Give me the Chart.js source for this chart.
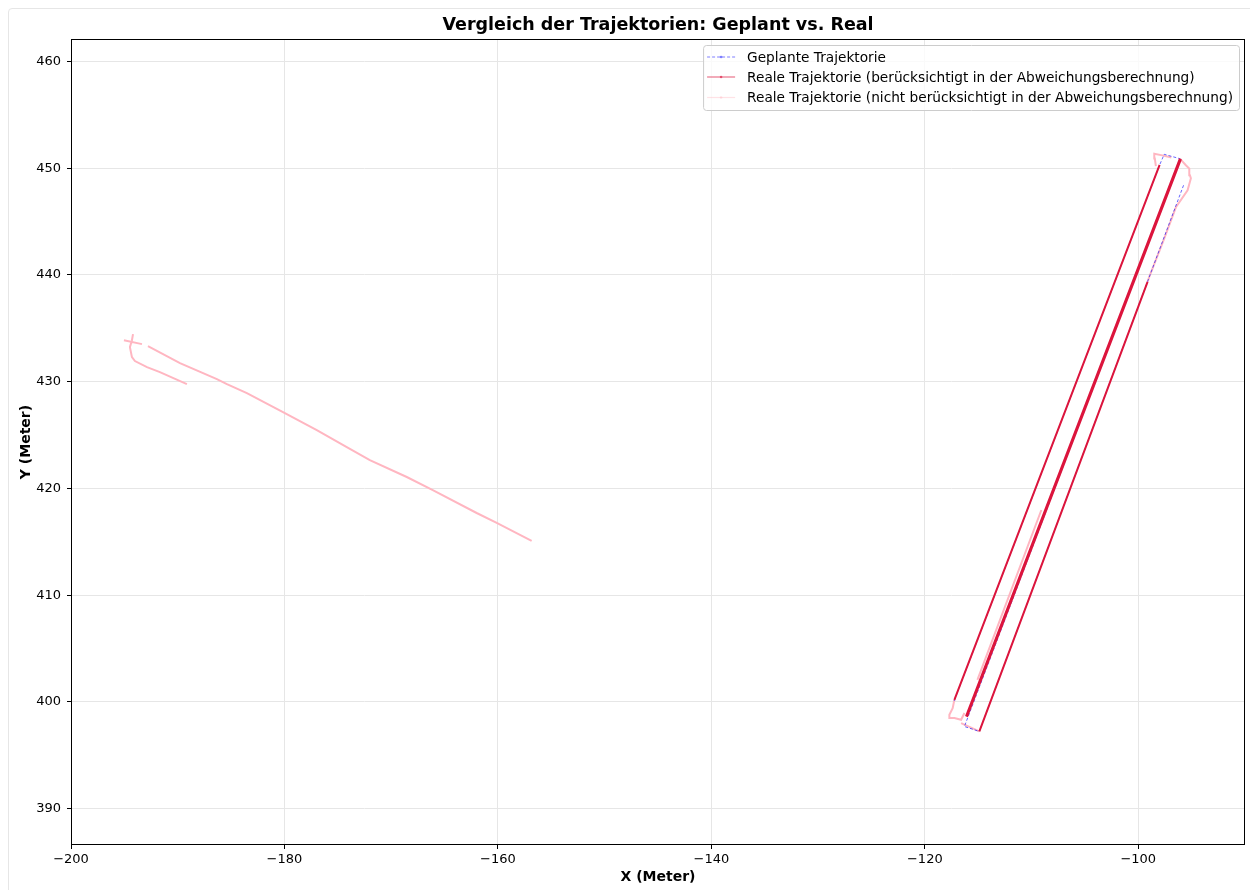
<!DOCTYPE html>
<html>
<head>
<meta charset="utf-8">
<script src="https://cdn.jsdelivr.net/npm/chart.js@4.4.0/dist/chart.umd.min.js"></script>
<style>
  body { margin: 0; background: #fff; }
  #wrap { position: relative; width: 1250px; height: 890px; overflow: hidden; }
  #frame { position: absolute; left: 8px; top: 8px; width: 1270px; height: 900px;
           border: 1px solid #e6e6e6; border-radius: 4px; box-sizing: border-box; }
  #chart { position: absolute; left: 0; top: 0; }
</style>
</head>
<body>
<div id="wrap">
  <div id="frame"></div>
  <canvas id="chart" width="1250" height="890"></canvas>
</div>
<script>
// Achsen
const xTicks = [-200, -180, -160, -140, -120, -100];
const yTicks = [390, 400, 410, 420, 430, 440, 450, 460];

// Geplante Trajektorie
const plannedX = [-117.25, -98.00, -97.57, -96.10, -116.29, -114.89, -95.72];
const plannedY = [400.10, 450.30, 451.30, 450.89, 397.70, 397.24, 448.50];

// Reale Trajektorie (berücksichtigt) - null = Lücke
const realInX = [-117.23, -98.00, null, -96.10, -116.14, null, -96.00, -116.05, null, -114.89, -99.13];
const realInY = [400.20, 450.30, null, 450.89, 398.64, null, 450.85, 398.60, null, 397.24, 439.35];

// Reale Trajektorie (nicht berücksichtigt)
const realOutX = [
  -189.14, -191.67, -192.88, -194.01, -194.29, -194.48, -194.29, -194.19, null,
  -195.04, -193.35, null,
  -192.79, -189.79, -186.33, -185.39, -183.52, -179.96, -176.97, -174.16, -172.00, -168.54, -166.10, -161.99, -160.11, -156.84, null,
  -98.35, -98.45, -98.50, -97.75, -96.90, null,
  -99.13, -98.97, -97.57, -96.46, -95.38, -95.07, -95.16, -95.22, -95.54, -96.10, null,
  -109.08, -115.07, null,
  -117.23, -117.39, -117.70, -117.70, -117.23, -116.60, -116.45, -116.29, null,
  -116.60, -114.89
];
const realOutY = [
  429.77, 430.90, 431.36, 431.93, 432.30, 433.24, 433.89, 434.45, null,
  433.89, 433.52, null,
  433.33, 431.74, 430.24, 429.77, 428.93, 427.06, 425.47, 423.88, 422.66, 421.07, 419.85, 417.70, 416.77, 415.08, null,
  450.20, 450.90, 451.36, 451.20, 451.00, null,
  439.35, 439.81, 443.41, 446.37, 447.93, 449.05, 449.33, 449.96, 450.27, 450.89, null,
  417.98, 402.07, null,
  400.20, 399.42, 398.80, 398.49, 398.49, 398.33, 398.64, 398.96, null,
  398.02, 397.24
];

const titleText = 'Vergleich der Trajektorien: Geplant vs. Real';
const legendLabels = [
  'Geplante Trajektorie',
  'Reale Trajektorie (berücksichtigt in der Abweichungsberechnung)',
  'Reale Trajektorie (nicht berücksichtigt in der Abweichungsberechnung)'
];

const FONT = '"DejaVu Sans", sans-serif';

const toPoints = (xs, ys) => xs.map((x, i) => ({ x: x, y: ys[i] }));
const fmt = v => (v < 0 ? '\u2212' + Math.abs(v) : String(v));

// Titel, Rahmen und Legende (im Stil von matplotlib)
const decor = {
  id: 'decor',
  afterDraw(chart) {
    const { ctx, chartArea: a } = chart;
    ctx.save();
    ctx.strokeStyle = '#000';
    ctx.lineWidth = 1;
    ctx.strokeRect(a.left + 0.5, a.top + 0.5, a.right - a.left - 1, a.bottom - a.top - 1);

    ctx.fillStyle = '#000';
    ctx.font = 'bold 17.5px ' + FONT;
    ctx.textAlign = 'center';
    ctx.textBaseline = 'middle';
    ctx.fillText(titleText, (a.left + a.right) / 2, 25);

    // Legende
    ctx.font = '13.7px ' + FONT;
    const maxW = Math.max(...legendLabels.map(t => ctx.measureText(t).width));
    const right = a.right - 6, top = a.top + 6;
    const w = maxW + 50, h = 65, left = right - w;
    ctx.fillStyle = 'rgba(255,255,255,0.8)';
    ctx.strokeStyle = '#cccccc';
    ctx.beginPath();
    ctx.roundRect(left + 0.5, top + 0.5, w, h, 3);
    ctx.fill();
    ctx.stroke();

    const rows = [top + 12, top + 32, top + 52.5];
    const styles = [
      { color: 'rgba(0,0,255,0.5)', dash: [3, 2] },
      { color: 'rgba(220,20,60,0.6)', dash: [] },
      { color: 'rgba(255,182,193,0.4)', dash: [] }
    ];
    rows.forEach((y, i) => {
      const s = styles[i];
      ctx.strokeStyle = s.color;
      ctx.lineWidth = 1.2;
      ctx.setLineDash(s.dash);
      ctx.beginPath();
      ctx.moveTo(left + 4, y);
      ctx.lineTo(left + 32, y);
      ctx.stroke();
      ctx.setLineDash([]);
      ctx.fillStyle = s.color;
      ctx.beginPath();
      ctx.arc(left + 18, y, 1.3, 0, Math.PI * 2);
      ctx.fill();
      ctx.fillStyle = '#000';
      ctx.textAlign = 'left';
      ctx.textBaseline = 'middle';
      ctx.fillText(legendLabels[i], left + 44, y + 1);
    });
    ctx.restore();
  }
};

new Chart(document.getElementById('chart').getContext('2d'), {
  type: 'scatter',
  data: {
    datasets: [
      {
        label: legendLabels[0],
        data: toPoints(plannedX, plannedY),
        showLine: true,
        borderColor: 'rgba(0,0,255,0.6)',
        borderWidth: 1,
        borderDash: [3, 2],
        pointRadius: 0,
        order: 1
      },
      {
        label: legendLabels[1],
        data: toPoints(realInX, realInY),
        showLine: true,
        borderColor: '#DC143C',
        borderWidth: 2,
        pointRadius: 0,
        order: 0
      },
      {
        label: legendLabels[2],
        data: toPoints(realOutX, realOutY),
        showLine: true,
        borderColor: '#FFB6C1',
        borderWidth: 2,
        pointRadius: 0,
        order: 2
      }
    ]
  },
  options: {
    responsive: false,
    animation: false,
    spanGaps: false,
    layout: { padding: { top: 39, right: 5, left: 0, bottom: 0 } },
    plugins: { legend: { display: false }, tooltip: { enabled: false }, title: { display: false } },
    scales: {
      x: {
        type: 'linear',
        min: -200,
        max: -90,
        afterBuildTicks: s => { s.ticks = xTicks.map(v => ({ value: v })); },
        afterFit: s => { s.height = 45; },
        grid: { color: '#e6e6e6', tickColor: '#000', tickLength: 4, drawTicks: true },
        border: { display: false },
        ticks: { color: '#000', font: { family: FONT, size: 13 }, padding: 3, maxRotation: 0, callback: v => fmt(v) },
        title: { display: true, text: 'X (Meter)', color: '#000', font: { family: FONT, size: 14, weight: 'bold' }, padding: { top: 0, bottom: 4 } }
      },
      y: {
        type: 'linear',
        min: 386.6,
        max: 462.1,
        afterBuildTicks: s => { s.ticks = yTicks.map(v => ({ value: v })); },
        afterFit: s => { s.width = 71; },
        grid: { color: '#e6e6e6', tickColor: '#000', tickLength: 4, drawTicks: true },
        border: { display: false },
        ticks: { color: '#000', font: { family: FONT, size: 13 }, padding: 6, callback: v => fmt(v) },
        title: { display: true, text: 'Y (Meter)', color: '#000', font: { family: FONT, size: 14, weight: 'bold' }, padding: { top: 18, bottom: 0 } }
      }
    }
  },
  plugins: [decor]
});
</script>
</body>
</html>
